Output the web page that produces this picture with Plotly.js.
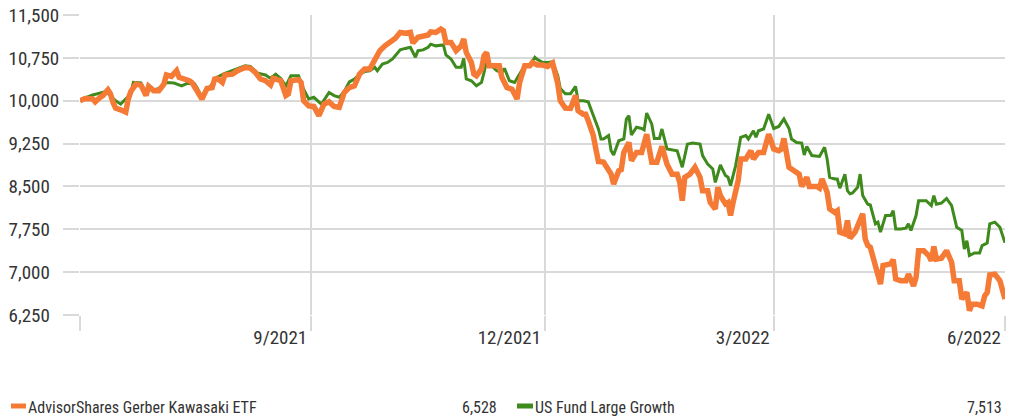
<!DOCTYPE html>
<html>
<head>
<meta charset="utf-8">
<script src="https://cdn.plot.ly/plotly-3.0.1.min.js"></script>
<style>
  html, body { margin: 0; padding: 0; background: #fff; }
  #chart { width: 1011px; height: 418px; }
</style>
</head>
<body>
<div id="chart"></div>
<script>
// ---- Data (growth of 10,000; days counted from the start date) ----
const startDate = '2021-07-01';

const seriesNames = ['AdvisorShares Gerber Kawasaki ETF', 'US Fund Large Growth'];
const endValueLabels = ['6,528', '7,513'];

const gkDays = [0,2,5,6,8,9,11,12,13,14,16,18,19,20,22,24,26,27,29,31,33,34,36,38,39,41,43,44,46,48,50,52,53,54,56,57,60,62,65,67,69,71,73,75,76,78,79,81,82,83,86,87,88,90,92,94,96,98,100,102,104,106,108,110,112,114,116,117,118,120,122,124,126,128,130,131,133,135,137,138,140,142,143,144,146,148,150,151,152,154,155,156,158,159,160,161,163,165,166,168,170,172,173,175,177,178,180,182,184,186,188,189,191,192,193,195,196,198,199,200,202,203,204,206,208,209,210,212,213,214,216,217,219,221,223,225,227,229,231,233,235,236,237,238,240,242,244,245,247,248,250,251,252,254,255,256,257,259,260,262,264,265,267,269,271,273,275,276,277,278,279,281,283,284,286,287,290,291,292,294,295,297,298,299,301,302,303,305,306,308,309,310,311,313,315,316,318,319,320,321,323,325,326,328,329,330,332,334,335,336,337,339,341,343,344,346,347,349,350,351,353,355,356,357,358,360,362,363,364];
const gkValues = [10000,10040,10030,9980,10060,10090,10190,10120,9970,9870,9840,9800,10030,10160,10290,10270,10090,10250,10175,10175,10290,10450,10425,10525,10410,10390,10350,10320,10175,10030,10215,10230,10380,10390,10320,10450,10465,10525,10580,10570,10495,10380,10350,10275,10390,10350,10350,10090,10120,10350,10370,10320,10000,9910,9900,9740,9940,9980,9900,9885,10145,10230,10260,10465,10555,10555,10740,10790,10875,10960,11030,11090,11195,11180,11195,11010,11110,11135,11150,11205,11195,11255,11225,11020,11020,10875,10960,11080,10845,10670,10465,10435,10555,10790,10845,10610,10610,10610,10410,10230,10200,10030,10320,10610,10610,10670,10625,10625,10600,10660,10300,10000,9870,9855,9865,10090,9825,9765,9765,9650,9390,9155,8935,8925,8805,8715,8540,8775,8795,9095,9270,8950,9095,9095,9415,8925,8925,9200,8890,8715,8715,8570,8250,8660,8715,8835,8660,8425,8425,8220,8105,8485,8340,8195,8220,7990,8220,8600,8980,8980,9125,8980,9095,9095,9415,9155,9125,9155,9340,9095,8835,8775,8715,8500,8660,8500,8500,8470,8630,8400,8105,8045,8075,7700,7670,7905,7595,7700,7815,8020,7580,7465,7435,7085,6790,7115,7145,7145,7220,6880,6850,6850,6965,6760,6905,7375,7375,7290,7200,7450,7230,7245,7375,7175,6850,6850,6530,6645,6325,6440,6440,6410,6585,6645,6950,6965,6850,6645,6528];

const lgDays = [0,2,5,8,10,12,14,16,20,21,24,26,27,29,31,34,37,40,42,45,46,48,51,54,57,60,62,65,67,70,73,75,77,79,81,83,86,88,90,92,95,98,100,102,104,106,108,110,112,114,116,117,119,121,123,125,126,128,130,132,133,135,137,138,140,143,144,146,148,150,151,152,154,156,158,159,160,162,164,166,167,169,171,173,175,177,179,180,182,184,186,188,189,191,193,195,196,198,200,202,204,205,206,208,209,210,212,214,215,216,217,219,221,222,223,225,226,228,229,231,233,235,237,239,241,243,244,245,247,249,250,252,254,255,256,258,260,262,263,265,266,267,269,271,273,275,277,279,280,282,284,285,286,288,290,291,293,294,295,297,298,299,301,302,303,304,306,307,308,310,311,313,314,315,317,319,320,321,323,325,326,327,329,330,333,335,336,337,339,341,343,345,347,348,349,350,352,354,355,357,358,360,362,363,364];
const lgValues = [10000,10050,10100,10130,10160,10090,10000,9940,10120,10320,10310,10120,10275,10190,10215,10320,10310,10260,10300,10300,10230,10060,10230,10410,10480,10525,10565,10610,10600,10480,10450,10390,10465,10390,10260,10435,10435,10200,10030,10060,9940,10145,10090,10060,10160,10330,10380,10465,10510,10525,10585,10525,10640,10670,10730,10845,10890,10915,10935,10760,10875,10890,10935,10990,10960,10975,10800,10730,10585,10585,10740,10380,10350,10260,10320,10495,10700,10610,10525,10495,10565,10350,10320,10465,10610,10610,10760,10720,10670,10670,10680,10440,10215,10120,10120,10250,10000,10000,9980,9740,9505,9330,9330,9390,9125,9050,9300,9330,9680,9740,9400,9535,9515,9490,9785,9590,9340,9340,9505,9155,9145,9125,8835,9240,9260,9240,9240,9040,8890,8805,8570,8875,8690,8660,8515,8865,9360,9390,9330,9475,9360,9475,9505,9765,9515,9550,9680,9515,9330,9270,9260,9050,9200,9040,9025,9025,9185,8980,8660,8630,8630,8470,8715,8425,8370,8385,8485,8715,8340,8190,8175,7845,7875,7700,7990,7990,8075,7755,7755,7770,7845,7730,7990,8250,8250,8165,8340,8190,8210,8290,8165,7785,7730,7405,7550,7290,7335,7335,7465,7510,7845,7875,7785,7640,7513];

const yTicks = [6250, 7000, 7750, 8500, 9250, 10000, 10750, 11500];
const yTickLabels = ['6,250', '7,000', '7,750', '8,500', '9,250', '10,000', '10,750', '11,500'];
const xTickDates = ['2021-07-01', '2021-09-30', '2021-12-31', '2022-03-31', '2022-06-30'];
const xTickLabels = ['', '9/2021', '12/2021', '3/2022', '6/2022'];

// ---- helpers ----
function toDates(days) {
  const base = Date.parse(startDate + 'T00:00:00Z');
  return days.map(d => new Date(base + d * 86400000).toISOString().slice(0, 10));
}
// left-align the y labels: pad shorter labels on the right with figure spaces
const maxLen = Math.max(...yTickLabels.map(s => s.length));
const yTickText = yTickLabels.map(s => s + '\u2007'.repeat(maxLen - s.length));

const W = 1011, H = 418;
const M = { l: 80, r: 6, t: 15, b: 103 };
const plotW = W - M.l - M.r, plotH = H - M.t - M.b;
const px = p => (p - M.l) / plotW;         // pixel x -> paper x
const py = q => (M.t + plotH - q) / plotH; // pixel y -> paper y

const FONT = "'Liberation Sans Narrow', 'Roboto Condensed', 'DejaVu Sans Condensed', 'Liberation Sans', sans-serif";
const TXT = '#333333';
const GRID = '#d9d9d9';
const ORANGE = '#f57a35';
const GREEN = '#3f8a1d';
const AXIS_FONT = { family: FONT, size: 19, color: TXT };
const LEG_FONT = { family: FONT, size: 16, color: TXT };

const traces = [
  { x: toDates(lgDays), y: lgValues, name: seriesNames[1], type: 'scatter', mode: 'lines',
    line: { color: GREEN, width: 3 }, hoverinfo: 'x+y+name' },
  { x: toDates(gkDays), y: gkValues, name: seriesNames[0], type: 'scatter', mode: 'lines',
    line: { color: ORANGE, width: 5.5 }, hoverinfo: 'x+y+name' }
];

const legendCols = [
  { color: ORANGE, keyX0: 11, keyX1: 26, textX: 26, valX: 499 },
  { color: GREEN,  keyX0: 517, keyX1: 533, textX: 533, valX: 1004 }
];
const legendY = 406;
const shapes = [], annotations = [];
[0, 1].forEach(i => {
  const c = legendCols[i];
  shapes.push({ type: 'rect', xref: 'paper', yref: 'paper',
    x0: px(c.keyX0), x1: px(c.keyX1), y0: py(legendY - 2.5), y1: py(legendY + 2.5),
    fillcolor: c.color, line: { width: 0 } });
  annotations.push({ xref: 'paper', yref: 'paper', x: px(c.textX), y: py(legendY + 1),
    xanchor: 'left', yanchor: 'middle', showarrow: false, text: seriesNames[i], font: LEG_FONT });
  annotations.push({ xref: 'paper', yref: 'paper', x: px(c.valX), y: py(legendY + 1),
    xanchor: 'right', yanchor: 'middle', showarrow: false, text: endValueLabels[i], font: LEG_FONT });
});

const layout = {
  width: W, height: H,
  margin: M,
  paper_bgcolor: '#ffffff', plot_bgcolor: '#ffffff',
  showlegend: false,
  font: { family: FONT, size: 17, color: TXT },
  xaxis: {
    type: 'date',
    range: ['2021-07-01', '2022-06-30'],
    tickmode: 'array', tickvals: xTickDates, ticktext: xTickLabels,
    showgrid: true, gridcolor: GRID, gridwidth: 2,
    ticks: 'outside', ticklen: 15, tickwidth: 2, tickcolor: GRID,
    ticklabelposition: 'outside left',
    ticklabelstandoff: 5, ticklabelshift: -3,
    showline: false, zeroline: false,
    tickfont: AXIS_FONT
  },
  yaxis: {
    range: [6250, 11500],
    tickmode: 'array', tickvals: yTicks, ticktext: yTickText,
    showgrid: true, gridcolor: GRID, gridwidth: 2,
    ticks: 'outside', ticklen: 16, tickwidth: 2, tickcolor: GRID,
    showline: false, zeroline: false,
    tickfont: AXIS_FONT
  },
  shapes: shapes,
  annotations: annotations
};

Plotly.newPlot('chart', traces, layout, { displayModeBar: false, staticPlot: true });
</script>
</body>
</html>
